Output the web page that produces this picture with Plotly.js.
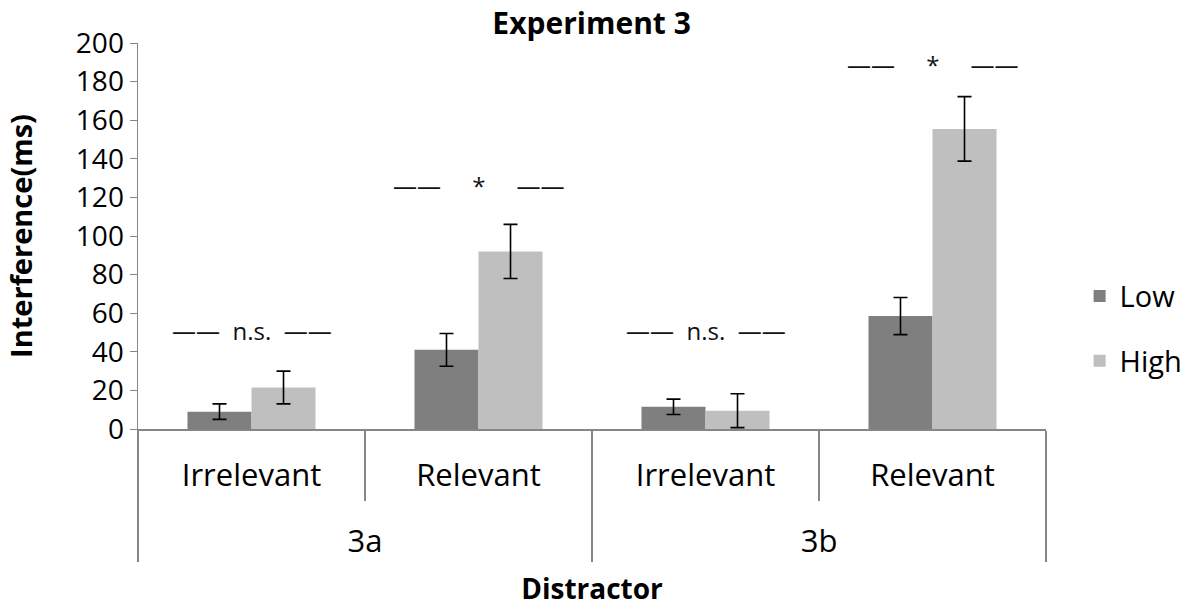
<!DOCTYPE html>
<html>
<head>
<meta charset="utf-8">
<script src="https://cdn.plot.ly/plotly-3.0.1.min.js"></script>
<style>
  html, body { margin: 0; padding: 0; background: #fff; }
  #chart { width: 1200px; height: 611px; }
</style>
</head>
<body>
<div id="chart"></div>
<script>
// experiment groups and distractor type, one entry per bar pair
var experiments = ['3a', '3a', '3b', '3b']
var distractors = ['Irrelevant', 'Relevant', 'Irrelevant', 'Relevant']

// mean interference (ms) and error bar half-widths
var lowMeans = [9, 41, 11.5, 58.5]
var lowErr = [4, 8.5, 4, 9.6]
var highMeans = [21.5, 92, 9.5, 155.5]
var highErr = [8.5, 14, 8.8, 16.7]

// significance markers above each pair
var sigLabels = ['n.s.', '*', 'n.s.', '*']
var sigHeights = [51, 126, 51, 189]

var font = 'Open Sans, Noto Sans, sans-serif'
var axisGrey = '#868686'

// outer labels sit one line lower, like the Excel original
var outerLabels = experiments.map(e => '<br>' + e)

var makeBar = (name, y, err, color) => {
  return {
    type: 'bar',
    name: name,
    legendgroup: name,
    x: [outerLabels, distractors],
    y: y,
    marker: { color: color, line: { width: 0 } },
    error_y: {
      type: 'data',
      array: err,
      visible: true,
      color: '#000',
      thickness: 1.6,
      width: 7
    },
    hoverinfo: 'skip'
  }
}

var data = [
  makeBar('Low', lowMeans, lowErr, '#7f7f7f'),
  makeBar('High', highMeans, highErr, '#bfbfbf')
]

var gap = '\u00a0\u00a0'
var starGap = '\u00a0\u00a0\u00a0\u00a0\u00a0'
var annotations = sigLabels.map((label, i) => {
  var g = label === '*' ? starGap : gap
  return {
    xref: 'x',
    yref: 'y',
    x: i,
    y: sigHeights[i],
    text: '——' + g + label + g + '——',
    showarrow: false,
    xanchor: 'center',
    yanchor: 'middle',
    font: { family: font, size: 24, color: '#111' }
  }
})

var layout = {
  width: 1200,
  height: 611,
  paper_bgcolor: '#fff',
  plot_bgcolor: '#fff',
  margin: { l: 138, r: 154, t: 43, b: 182 },
  title: {
    text: '<b>Experiment 3</b>',
    font: { family: font, size: 30, color: '#000' },
    x: 0.493,
    xanchor: 'center',
    y: 0.962,
    yanchor: 'middle'
  },
  barmode: 'group',
  bargap: 0.436,
  bargroupgap: 0,
  showlegend: true,
  legend: {
    x: 1.037,
    xanchor: 'left',
    y: 0.26,
    yanchor: 'middle',
    traceorder: 'grouped',
    tracegroupgap: 24,
    font: { family: font, size: 29, color: '#000' },
    bgcolor: 'rgba(0,0,0,0)'
  },
  xaxis: {
    type: 'multicategory',
    showline: true,
    linecolor: axisGrey,
    linewidth: 1.5,
    ticks: 'outside',
    tickson: 'boundaries',
    ticklen: 70,
    tickcolor: axisGrey,
    tickwidth: 1.2,
    ticklabelstandoff: 18,
    showdividers: true,
    dividercolor: axisGrey,
    dividerwidth: 1.2,
    showgrid: false,
    tickfont: { family: font, size: 31, color: '#000' },
    title: {
      text: '<b>Distractor</b>',
      font: { family: font, size: 28, color: '#000' },
      standoff: 19
    }
  },
  yaxis: {
    range: [0, 200],
    dtick: 20,
    showline: true,
    linecolor: axisGrey,
    linewidth: 1.5,
    ticks: 'outside',
    ticklen: 7,
    tickcolor: axisGrey,
    showgrid: false,
    zeroline: false,
    tickfont: { family: font, size: 28, color: '#000' },
    title: {
      text: '<b>Interference(ms)</b>',
      font: { family: font, size: 29, color: '#000' },
      standoff: 34
    }
  },
  annotations: annotations
}

Plotly.newPlot('chart', data, layout, { displayModeBar: false, staticPlot: true })
</script>
</body>
</html>
